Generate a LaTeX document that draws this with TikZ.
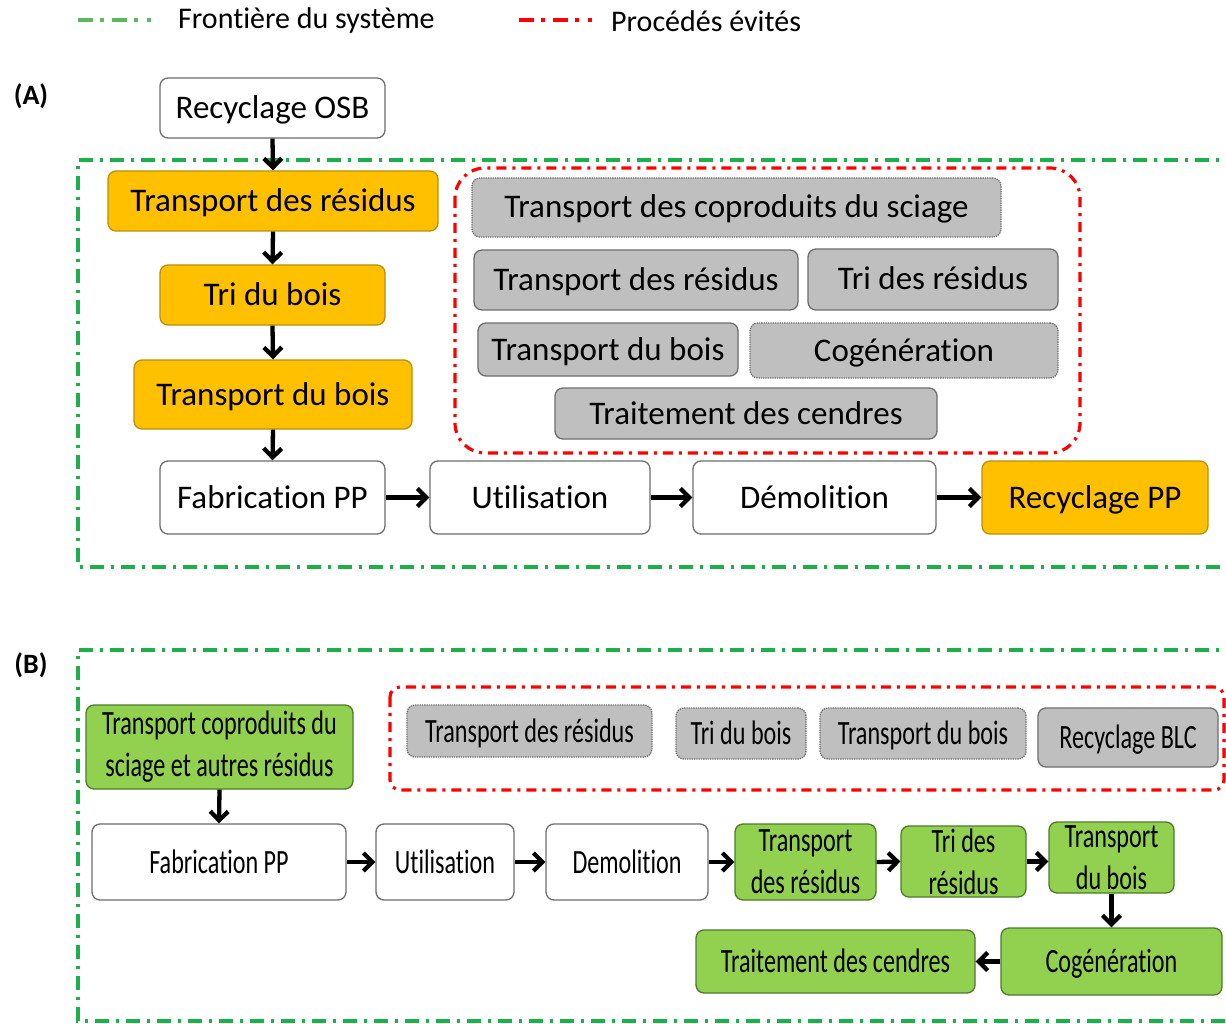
\documentclass[tikz,border=0pt]{standalone}
\usepackage{fontspec}
\setmainfont[RawFeature={-liga;-clig}]{Carlito}
\newfontfamily\condfont[FakeStretch=0.71,RawFeature={-liga;-clig}]{Carlito}
\usetikzlibrary{arrows.meta}
\definecolor{orangeC}{HTML}{FFC000}
\definecolor{orangeD}{HTML}{B8900A}
\definecolor{greenC}{HTML}{92D050}
\definecolor{greenD}{HTML}{4F7A2C}
\definecolor{grayC}{HTML}{BFBFBF}
\definecolor{grayD}{HTML}{6E6E6E}
\definecolor{bndG}{HTML}{1DB04A}
\definecolor{legG}{HTML}{5DB85D}
\definecolor{bndR}{HTML}{FF0000}
\newcommand\mkbox[7]{%
  \node[#1, minimum width={(#5-#3)*1pt}, minimum height={(#6-#4)*1pt}] (#2) at ({(#3+#5)/2},{(#4+#6)/2}) {#7};}
\begin{document}
\begin{tikzpicture}[x=1pt,y=-1pt,
  bxa/.style={draw=grayD, line width=1.3pt, rounded corners=8pt, inner sep=0pt, align=center, text height=26pt, text depth=5pt, font=\fontsize{33}{38}\selectfont},
  bxb/.style={draw=grayD, line width=1.3pt, rounded corners=8pt, inner sep=0pt, align=center, font=\condfont\fontsize{34}{42}\selectfont},
  one/.style={text height=27pt, text depth=5pt},
  wht/.style={fill=white},
  org/.style={fill=orangeC, draw=orangeD},
  grn/.style={fill=greenC, draw=greenD},
  gry/.style={fill=grayC, draw=grayD},
  dotb/.style={densely dotted},
  arr/.style={line width=4.3pt, -{Straight Barb[length=9pt,width=18pt]}},
  gbound/.style={draw=bndG, line width=3.8pt, dash pattern=on 14pt off 7pt on 3pt off 7pt},
  rbound/.style={draw=bndR, line width=3.2pt, dash pattern=on 10pt off 6pt on 3pt off 6pt},
  legline/.style={line width=4.5pt, dash pattern=on 15pt off 7pt on 4pt off 8pt on 15pt off 7pt on 4pt off 9pt on 4pt off 100pt},
  lbl/.style={font=\bfseries\fontsize{28}{32}\selectfont},
  leg/.style={anchor=west, inner sep=0pt, font=\fontsize{30}{34}\selectfont}
]
\clip (0,0) rectangle (1226,1024);
\fill[white] (0,0) rectangle (1226,1024);

% legend
\draw[legline, draw=legG] (78,20) -- (162,20);
\node[leg] (legG) at (178,21) {Frontière du système};
\draw[legline, draw=bndR] (519,20) -- (605,20);
\node[leg] (legR) at (611,21) {Procédés évités};

% ---------- (A)
\node[lbl] (labA) at (31,96) {(A)};
\draw[gbound] (1240,160) -- (78,160) -- (78,567) -- (1240,567);
\draw[rbound, rounded corners=30pt] (455,168) rectangle (1080,453);

\mkbox{bxa,wht}{osb}{160}{78}{385}{138}{Recyclage OSB}
\mkbox{bxa,org}{trA}{108}{171}{438}{231}{Transport des résidus}
\mkbox{bxa,org}{triA}{160}{265}{385}{325}{Tri du bois}
\mkbox{bxa,org}{tbA}{134}{360}{412}{429}{Transport du bois}
\mkbox{bxa,wht}{fabA}{160}{461}{385}{534}{Fabrication PP}
\mkbox{bxa,wht}{utiA}{430}{461}{650}{534}{Utilisation}
\mkbox{bxa,wht}{demA}{693}{461}{936}{534}{Démolition}
\mkbox{bxa,org}{recA}{982}{461}{1208}{534}{Recyclage PP}

\mkbox{bxa,gry,dotb}{g1}{472}{178}{1001}{237}{Transport des coproduits du sciage}
\mkbox{bxa,gry}{g2}{474}{250}{798}{310}{Transport des résidus}
\mkbox{bxa,gry}{g3}{808}{249}{1058}{310}{Tri des résidus}
\mkbox{bxa,gry}{g4}{478}{323}{738}{376}{Transport du bois}
\mkbox{bxa,gry,dotb}{g5}{750}{323}{1058}{378}{Cogénération}
\mkbox{bxa,gry}{g6}{555}{388}{937}{439}{Traitement des cendres}

\draw[arr] (osb.south) -- (trA.north);
\draw[arr] (trA.south) -- (triA.north);
\draw[arr] (triA.south) -- (tbA.north);
\draw[arr] (tbA.south) -- (fabA.north);
\draw[arr] (fabA.east) -- (utiA.west);
\draw[arr] (utiA.east) -- (demA.west);
\draw[arr] (demA.east) -- (recA.west);

% ---------- (B)
\node[lbl] (labB) at (31,665) {(B)};
\draw[gbound] (1240,650) -- (78,650) -- (78,1021) -- (1240,1021);
\draw[rbound, rounded corners=10pt] (390,687) rectangle (1224,790);

\mkbox{bxb,one,gry,dotb}{h1}{407}{705}{652}{757}{Transport des résidus}
\mkbox{bxb,one,gry,dotb}{h2}{676}{708}{806}{759}{Tri du bois}
\mkbox{bxb,one,gry,dotb}{h3}{820}{708}{1026}{759}{Transport du bois}
\mkbox{bxb,one,gry}{h4}{1038}{708}{1218}{767}{Recyclage BLC}

\mkbox{bxb,grn}{tcB}{86}{705}{353}{789}{Transport coproduits du\\sciage et autres résidus}
\mkbox{bxb,one,wht}{fabB}{92}{824}{346}{900}{Fabrication PP}
\mkbox{bxb,one,wht}{utiB}{376}{824}{514}{900}{Utilisation}
\mkbox{bxb,one,wht}{demB}{546}{824}{708}{900}{Demolition}
\mkbox{bxb,grn}{trB}{735}{824}{876}{900}{Transport\\des résidus}
\mkbox{bxb,grn}{triB}{901}{826}{1026}{897}{Tri des\\résidus}
\mkbox{bxb,grn}{tbB}{1049}{822}{1174}{893}{Transport\\du bois}
\mkbox{bxb,one,grn}{cogB}{1001}{928}{1222}{995}{Cogénération}
\mkbox{bxb,one,grn}{tcdB}{696}{930}{975}{993}{Traitement des cendres}

\draw[arr] (tcB.south) -- (fabB.north);
\draw[arr] (fabB.east) -- (utiB.west);
\draw[arr] (utiB.east) -- (demB.west);
\draw[arr] (demB.east) -- (trB.west);
\draw[arr] (trB.east) -- (triB.west);
\draw[arr] (triB.east) -- (triB.east -| tbB.west);
\draw[arr] (tbB.south) -- (cogB.north);
\draw[arr] (cogB.west) -- (cogB.west -| tcdB.east);
\end{tikzpicture}
\end{document}
